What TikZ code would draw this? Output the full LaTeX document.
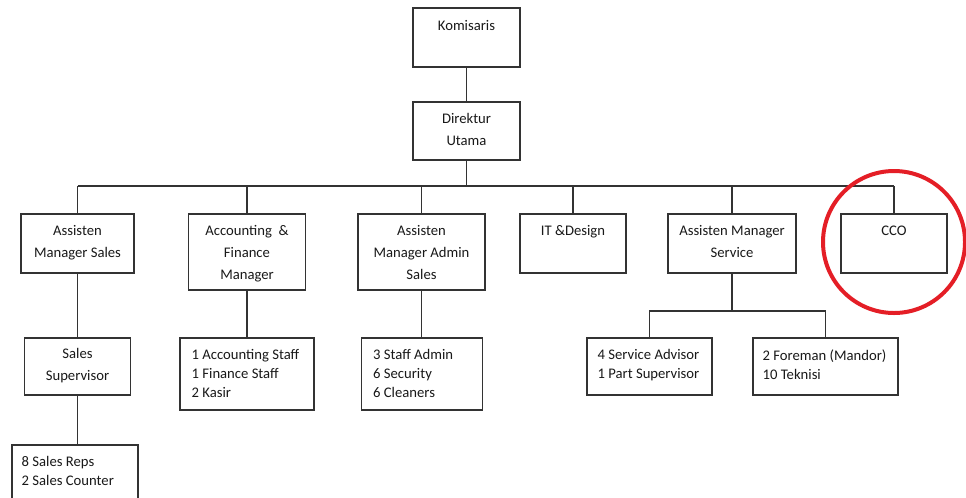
\documentclass[tikz,border=0pt]{standalone}
\usepackage{fontspec}
\setmainfont{Carlito}
\usetikzlibrary{positioning}
\definecolor{ringred}{RGB}{228,30,38}
\tikzset{
  box/.style={draw=black!80,line width=0.9pt,rectangle,inner sep=0pt},
  lbl/.style={inner sep=0pt,align=center,text=black!90,font=\fontsize{11}{16.5}\selectfont},
  lst/.style={inner sep=0pt,align=left,text=black!90,font=\fontsize{11}{14.2}\selectfont},
  wire/.style={draw=black!80,line width=0.9pt}
}

\begin{document}
\begin{tikzpicture}[x=0.75pt,y=-0.75pt]
\clip (0,0) rectangle (966,497);
\fill[white] (0,0) rectangle (966,497);
% boxes
\node[box,minimum width=80.25pt,minimum height=44.25pt] (kom) at (466.5,37.5) {};
\node[box,minimum width=80.25pt,minimum height=43.5pt] (dir) at (466.5,131) {};
\node[box,minimum width=84.75pt,minimum height=44.25pt] (ams) at (77.5,243.5) {};
\node[box,minimum width=87.75pt,minimum height=57pt] (afm) at (247,252) {};
\node[box,minimum width=95.25pt,minimum height=57pt] (amas) at (421.5,252) {};
\node[box,minimum width=79.5pt,minimum height=44.25pt] (it) at (573,243.5) {};
\node[box,minimum width=96pt,minimum height=44.25pt] (amsv) at (732,243.5) {};
\node[box,minimum width=79.5pt,minimum height=44.25pt] (cco) at (894,243.5) {};
\node[box,minimum width=79.5pt,minimum height=42.75pt] (ss) at (77.5,366.5) {};
\node[box,minimum width=100.5pt,minimum height=54pt] (afs) at (247,374) {};
\node[box,minimum width=90.75pt,minimum height=54pt] (adm) at (422,374) {};
\node[box,minimum width=93.75pt,minimum height=42.75pt] (sa) at (649.5,366.5) {};
\node[box,minimum width=108.75pt,minimum height=42.75pt] (fm) at (825.5,366.5) {};
\node[box,minimum width=94.5pt,minimum height=48.75pt] (sr) at (75,477.5) {};

% texts
\node[lbl,below=9.5pt of kom.north] (komT) {Komisaris};
\node[lbl,below=9pt of dir.north] (dirT) {Direktur\\Utama};
\node[lbl,below=9pt of ams.north] (amsT) {Assisten\\Manager Sales};
\node[lbl,below=9pt of afm.north] (afmT) {Accounting \ \&\\Finance\\Manager};
\node[lbl,below=9pt of amas.north] (amasT) {Assisten\\Manager Admin\\Sales};
\node[lbl,below=9pt of it.north] (itT) {IT \&Design};
\node[lbl,below=9pt of amsv.north] (amsvT) {Assisten Manager\\Service};
\node[lbl,below=9pt of cco.north] (ccoT) {CCO};
\node[lbl,below=8.25pt of ss.north] (ssT) {Sales\\Supervisor};
\node[lst,below right=9pt and 9pt of afs.north west] (afsT) {1 Accounting Staff\\1 Finance Staff\\2 Kasir};
\node[lst,below right=9pt and 9pt of adm.north west] (admT) {3 Staff Admin\\6 Security\\6 Cleaners};
\node[lst,below right=9pt and 8.25pt of sa.north west] (saT) {4 Service Advisor\\1 Part Supervisor};
\node[lst,below right=9pt and 7.5pt of fm.north west] (fmT) {2 Foreman (Mandor)\\10 Teknisi};
\node[lst,below right=9pt and 7.5pt of sr.north west] (srT) {8 Sales Reps\\2 Sales Counter};

% connectors
\coordinate (bus) at (466.5,186);
\coordinate (svbus) at (732,311);
\draw[wire] (kom) -- (dir);
\draw[wire] (dir.south) -- (dir.south |- bus);
\draw[wire] (ams.north |- bus) -- (cco.north |- bus);
\foreach \n in {ams,afm,amas,it,amsv,cco}
  \draw[wire] (\n.north) -- (\n.north |- bus);
\draw[wire] (ams) -- (ss);
\draw[wire] (ss.south) -- (ss.south |- sr.north);
\draw[wire] (afm) -- (afs);
\draw[wire] (amas.south) -- (amas.south |- adm.north);
\draw[wire] (amsv.south) -- (svbus);
\draw[wire] (sa.north) |- (svbus) -| (fm.north);

% highlight
\draw[ringred,line width=3pt] (894,242) circle[radius=71];
\end{tikzpicture}
\end{document}
